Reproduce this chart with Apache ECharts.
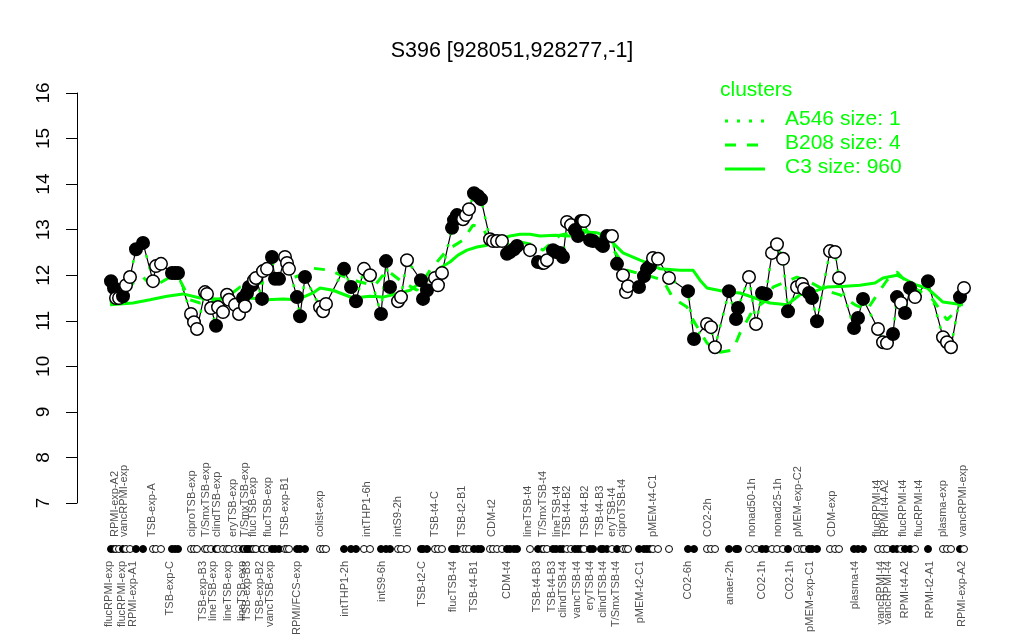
<!DOCTYPE html>
<html>
<head>
<meta charset="utf-8">
<script src="https://cdn.jsdelivr.net/npm/echarts@6/dist/echarts.min.js"></script>
<style>html,body{margin:0;padding:0;background:#fff}#c{width:1024px;height:640px}</style>
</head>
<body>
<div id="c"></div>
<script>
const chartTitle = 'S396 [928051,928277,-1]';
const yTicks = [7, 8, 9, 10, 11, 12, 13, 14, 15, 16];

// gene profile: sample position, expression value, filled (1) / open (0)
const samplePos = [1,4,6,9,13,16,20,26,33,43,46,51,62,65,68,81,84,87,95,97,101,106,108,113,117,119,125,129,133,135,137,139,142,144,146,152,153,157,162,165,169,175,177,179,187,190,195,210,213,216,234,241,246,254,260,271,276,280,288,291,297,311,313,317,325,328,332,342,344,347,353,356,359,364,368,371,380,383,387,392,397,400,404,407,420,428,432,434,437,443,446,450,453,457,461,465,468,471,474,480,483,491,493,497,502,507,513,516,518,529,534,537,540,543,548,559,578,584,597,601,605,619,626,628,639,646,652,656,662,667,673,678,687,692,694,699,702,707,720,725,729,744,748,753,768,773,777,783,787,791,795,800,805,818,833,837,841,850,854];
const sampleVal = [11.87,11.72,11.50,11.50,11.54,11.78,11.96,12.57,12.71,11.87,12.20,12.25,12.05,12.05,12.05,11.15,10.97,10.82,11.63,11.59,11.28,10.89,11.30,11.19,11.57,11.46,11.35,11.15,11.50,11.32,11.61,11.74,11.78,11.89,11.94,11.48,12.09,12.14,12.40,11.92,11.92,12.40,12.27,12.14,11.52,11.10,11.96,11.30,11.21,11.37,12.14,11.74,11.43,12.14,12.00,11.15,12.31,11.74,11.43,11.52,12.33,11.89,11.48,11.67,11.94,11.78,12.05,13.04,13.21,13.32,13.23,13.32,13.45,13.80,13.74,13.67,12.79,12.75,12.75,12.75,12.47,12.51,12.57,12.64,12.55,12.29,12.27,12.27,12.33,12.55,12.51,12.49,12.40,13.17,13.10,12.99,12.86,13.19,13.19,12.77,12.75,12.68,12.64,12.86,12.86,12.25,12.00,11.63,11.76,11.74,11.98,12.14,12.20,12.38,12.36,11.94,11.65,10.60,10.93,10.86,10.42,11.65,11.04,11.28,11.96,10.93,11.61,11.59,12.49,12.68,12.36,11.21,11.74,11.81,11.70,11.61,11.50,10.99,12.53,12.51,11.94,10.84,11.06,11.48,10.82,10.53,10.51,10.71,11.52,11.39,11.17,11.72,11.52,11.87,10.64,10.53,10.42,11.52,11.72];
const sampleFilled = [1,1,0,0,1,0,0,1,1,0,0,0,1,1,1,0,0,0,0,0,0,1,0,0,0,0,0,0,1,0,1,1,1,0,0,1,0,0,1,1,1,0,0,0,1,1,1,0,0,0,1,1,1,0,0,1,1,1,0,0,0,1,1,1,0,0,0,1,1,1,0,0,0,1,1,1,0,0,0,0,1,1,1,1,0,1,1,0,0,1,1,1,1,0,0,1,1,1,0,1,1,1,1,1,0,1,0,0,0,1,1,1,1,0,0,0,1,1,0,0,0,1,1,1,0,0,1,1,0,0,0,1,0,0,0,1,1,1,0,0,0,1,1,1,0,0,0,1,1,0,1,1,0,1,0,0,0,1,0];

// cluster C3 (mean profile)
const c3Pos = [0,23,40,57,73,90,107,123,140,157,173,187,203,210,223,243,260,273,290,300,310,317,330,340,348,357,367,377,387,400,410,420,430,445,460,475,487,497,502,513,530,543,550,570,583,590,597,617,630,645,660,677,690,702,717,735,750,765,773,787,797,807,817,833,853];
const c3Val = [11.35,11.39,11.46,11.54,11.59,11.50,11.48,11.46,11.50,11.46,11.48,11.46,11.61,11.72,11.67,11.50,11.54,11.52,11.61,11.67,11.83,11.89,12.16,12.29,12.44,12.55,12.62,12.66,12.77,12.86,12.90,12.90,12.86,12.88,12.86,12.95,12.93,12.86,12.73,12.49,12.33,12.22,12.14,12.11,12.11,11.89,11.72,11.63,11.61,11.50,11.39,11.35,11.57,11.63,11.74,11.76,11.78,11.83,11.94,12.00,11.89,11.78,11.72,11.41,11.35];

// cluster B208 (mean profile)
const b208Pos = [0,10,23,33,43,60,70,80,90,107,120,130,150,163,177,190,200,220,237,250,265,277,290,307,320,337,353,363,373,380,395,410,425,433,450,473,487,497,507,517,527,540,553,563,577,583,597,610,623,630,643,657,663,675,687,700,715,730,745,757,767,777,787,795,808,823,837,847,853];
const b208Val = [11.39,11.46,11.83,11.96,11.74,11.96,11.89,11.46,11.39,11.46,11.57,11.74,11.83,11.85,11.89,12.00,12.16,12.11,11.94,11.85,11.78,12.11,11.89,11.67,12.11,12.55,12.77,13.10,13.04,12.71,12.66,12.73,12.66,12.55,12.88,12.99,12.88,12.77,12.44,12.11,12.05,11.98,11.89,11.50,11.30,11.02,10.51,10.31,10.36,10.73,11.24,11.46,11.74,11.85,11.96,11.85,11.67,11.57,11.35,11.24,11.57,11.89,12.07,11.89,11.67,11.46,11.02,11.24,11.46];

// sample labels written above / below the sample dot row
const topLabels = ['RPMI-exp-A2','vancRPMI-exp','TSB-exp-A','ciproTSB-exp','T/SmxTSB-exp','clindTSB-exp','eryTSB-exp','T/SmxTSB-exp','flucTSB-exp','flucTSB-exp','TSB-exp-B1','colist-exp','intTHP1-6h','intS9-2h','TSB-t4-C','TSB-t2-B1','CDM-t2','lineTSB-t4','T/SmxTSB-t4','lineTSB-t4','TSB-t4-B2','TSB-t4-B2','TSB-t4-B3','eryTSB-t4','ciproTSB-t4','pMEM-t4-C1','CO2-2h','nonad50-1h','nonad25-1h','pMEM-exp-C2','CDM-exp','flucRPMI-t4','RPMI-t4-A2','flucRPMI-t4','flucRPMI-t4','plasma-exp','vancRPMI-exp'];
const topLabelPos = [5,14,42,82,96,107,123,135,143,158,175,210,257,288,325,352,382,418,433,447,457,475,490,502,512,543,598,642,668,688,722,767,775,793,809,833,853];
const bottomLabels = ['flucRPMI-exp','flucRPMI-exp','RPMI-exp-A1','TSB-exp-C','TSB-exp-B3','lineTSB-exp','lineTSB-exp','lineTSB-exp','TSB-exp-B3','TSB-exp-B2','vancTSB-exp','RPMI/FCS-exp','intTHP1-2h','intS9-6h','TSB-t2-C','flucTSB-t4','TSB-t4-B1','CDM-t4','TSB-t4-B3','TSB-t4-B3','clindTSB-t4','vancTSB-t4','eryTSB-t4','clindTSB-t4','T/SmxTSB-t4','pMEM-t2-C1','CO2-6h','anaer-2h','CO2-1h','CO2-1h','pMEM-exp-C1','plasma-t4','vancRPMI-t4','vancRPMI-t4','RPMI-t4-A2','RPMI-t2-A1','RPMI-exp-A2'];
const bottomLabelPos = [-1,12,23,60,93,103,118,132,137,150,160,187,235,272,312,343,364,397,427,442,453,467,480,493,506,530,578,620,652,680,700,745,771,778,795,820,852];

const legendNames = ['A546 size: 1', 'B208 size: 4', 'C3 size: 960'];

const GREEN = '#00ff00';
const FONT = '"Liberation Sans", Arial, Helvetica, sans-serif';

const profile = samplePos.map((p, i) => [p, sampleVal[i]]);
const pointItems = samplePos.map((p, i) => ({
  value: [p, sampleVal[i]],
  itemStyle: { color: sampleFilled[i] ? '#000' : '#fff', borderColor: '#000', borderWidth: 1.5, opacity: 1 }
}));
const dotItems = samplePos.map((p, i) => ({
  value: [p, 0],
  itemStyle: { color: sampleFilled[i] ? '#000' : '#fff', borderColor: '#000', borderWidth: 1, opacity: 1 }
}));

const chart = echarts.init(document.getElementById('c'), null, { renderer: 'canvas' });
const XMIN = -33, XMAX = 888;

chart.setOption({
  animation: false,
  backgroundColor: '#fff',
  textStyle: { fontFamily: FONT },
  title: {
    text: chartTitle, left: 'center', top: 35,
    textStyle: { fontSize: 21.5, fontWeight: 'normal', color: '#000', fontFamily: FONT }
  },
  grid: [
    { left: 77, top: 93, width: 921, height: 410 },
    { left: 77, top: 540, width: 921, height: 18 }
  ],
  xAxis: [
    { gridIndex: 0, type: 'value', min: XMIN, max: XMAX, show: false },
    { gridIndex: 1, type: 'value', min: XMIN, max: XMAX, show: false }
  ],
  yAxis: [
    {
      gridIndex: 0, type: 'value', min: yTicks[0], max: yTicks[yTicks.length - 1], interval: 1,
      axisLine: { show: true, onZero: false, lineStyle: { color: '#000', width: 1 } },
      axisTick: { show: true, length: 11, lineStyle: { color: '#000' } },
      axisLabel: { rotate: 90, fontSize: 19, color: '#000', margin: 24, fontFamily: FONT },
      splitLine: { show: false }
    },
    { gridIndex: 1, type: 'value', min: -1, max: 1, show: false }
  ],
  graphic: [
    { type: 'text', left: 720, top: 80, style: { text: 'clusters', fill: GREEN, font: '21px ' + FONT } },
    { type: 'line', shape: { x1: 725, y1: 121, x2: 765, y2: 121 }, style: { stroke: GREEN, lineWidth: 3, lineDash: [3, 9] } },
    { type: 'text', left: 785, top: 109, style: { text: legendNames[0], fill: GREEN, font: '21px ' + FONT } },
    { type: 'line', shape: { x1: 725, y1: 145, x2: 759, y2: 145 }, style: { stroke: GREEN, lineWidth: 3, lineDash: [11, 11] } },
    { type: 'text', left: 785, top: 133, style: { text: legendNames[1], fill: GREEN, font: '21px ' + FONT } },
    { type: 'line', shape: { x1: 725, y1: 169, x2: 765, y2: 169 }, style: { stroke: GREEN, lineWidth: 3 } },
    { type: 'text', left: 785, top: 157, style: { text: legendNames[2], fill: GREEN, font: '21px ' + FONT } }
  ],
  series: [
    {
      type: 'line', xAxisIndex: 0, yAxisIndex: 0, data: profile, symbol: 'none', z: 2,
      lineStyle: { color: '#000', width: 1.2 }, silent: true
    },
    {
      name: legendNames[0], type: 'line', xAxisIndex: 0, yAxisIndex: 0, data: profile, symbol: 'none', z: 3,
      lineStyle: { color: GREEN, width: 2.5, type: [3, 9] }, silent: true
    },
    {
      name: legendNames[1], type: 'line', xAxisIndex: 0, yAxisIndex: 0, symbol: 'none', z: 3,
      data: b208Pos.map((p, i) => [p, b208Val[i]]),
      lineStyle: { color: GREEN, width: 3, type: [11, 11], cap: 'butt' }, silent: true
    },
    {
      name: legendNames[2], type: 'line', xAxisIndex: 0, yAxisIndex: 0, symbol: 'none', z: 3,
      data: c3Pos.map((p, i) => [p, c3Val[i]]),
      lineStyle: { color: GREEN, width: 3 }, silent: true
    },
    {
      type: 'scatter', xAxisIndex: 0, yAxisIndex: 0, data: pointItems, symbol: 'circle', symbolSize: 12.5, z: 5, silent: true,
      itemStyle: { opacity: 1 }
    },
    {
      type: 'scatter', xAxisIndex: 1, yAxisIndex: 1, data: dotItems, symbol: 'circle', symbolSize: 7, z: 5, silent: true,
      itemStyle: { opacity: 1 }
    },
    {
      type: 'scatter', xAxisIndex: 1, yAxisIndex: 1, symbolSize: 0, z: 6, silent: true,
      data: topLabels.map((n, i) => ({ name: n, value: [topLabelPos[i], 1] })),
      label: { show: true, formatter: '{b}', position: 'top', distance: 3, rotate: 90, align: 'left', verticalAlign: 'middle', fontSize: 11, color: '#222', fontFamily: FONT }
    },
    {
      type: 'scatter', xAxisIndex: 1, yAxisIndex: 1, symbolSize: 0, z: 6, silent: true,
      data: bottomLabels.map((n, i) => ({ name: n, value: [bottomLabelPos[i], -1] })),
      label: { show: true, formatter: '{b}', position: 'bottom', distance: 3, rotate: 90, align: 'right', verticalAlign: 'middle', fontSize: 11, color: '#222', fontFamily: FONT }
    }
  ]
});
</script>
</body>
</html>
